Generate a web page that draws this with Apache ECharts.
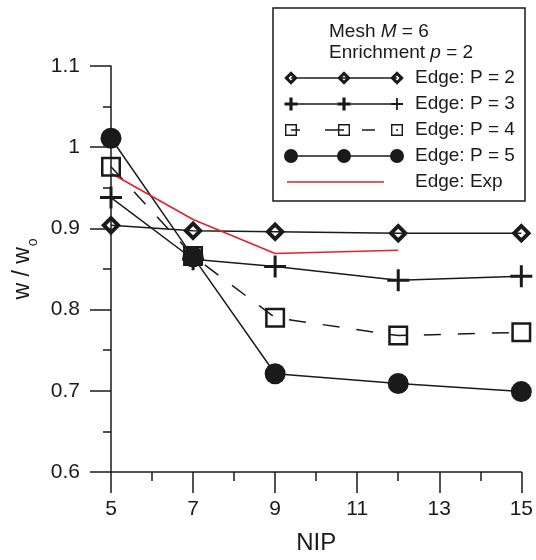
<!DOCTYPE html>
<html>
<head>
<meta charset="utf-8">
<script src="https://cdn.jsdelivr.net/npm/echarts@6/dist/echarts.min.js"></script>
<style>
  html, body { margin: 0; padding: 0; background: #fff; }
  #chart { width: 536px; height: 560px; }
</style>
</head>
<body>
<div id="chart"></div>
<script>
// Number of integration points (x) and normalised deflection w / w_o (y)
const nip = [5, 7, 9, 12, 15];
const nipExp = [5, 7, 9, 12];

const edgeP2 = [0.904, 0.897, 0.896, 0.894, 0.894];
const edgeP3 = [0.938, 0.862, 0.853, 0.836, 0.841];
const edgeP4 = [0.976, 0.866, 0.790, 0.768, 0.772];
const edgeP5 = [1.011, 0.865, 0.721, 0.709, 0.699];
const edgeExp = [0.968, 0.911, 0.869, 0.873];

const seriesNames = ['Edge: P = 2', 'Edge: P = 3', 'Edge: P = 4', 'Edge: P = 5', 'Edge: Exp'];

const xMajorTicks = [5, 7, 9, 11, 13, 15];
const xMinorTicks = [6, 8, 10, 12, 14];

const FONT = "'Liberation Sans', Arial, Helvetica, sans-serif";
const INK = '#1a1a1a';
const RED = '#e3222b';

function pairs(xs, ys) { return xs.map((x, i) => [x, ys[i]]); }

// ---- legend icons: a line with three markers, drawn as one filled path ----
const ICON_W = 126, ICON_H = 22, CY = 11;
const MARK_X = [7, 60, 113];
const frame = `M0,0h0.01M${ICON_W},${ICON_H}h-0.01`;
function lineRect(x0, x1) { return `M${x0},${CY - 0.75}H${x1}V${CY + 0.75}H${x0}Z`; }
function diamondPath(cx, r, ir) {
  return `M${cx},${CY - r}L${cx + r},${CY}L${cx},${CY + r}L${cx - r},${CY}Z` +
         `M${cx},${CY - ir}L${cx - ir},${CY}L${cx},${CY + ir}L${cx + ir},${CY}Z`;
}
function plusPath(cx, r, t) {
  return `M${cx - t},${CY - r}h${2 * t}v${2 * r}h${-2 * t}Z` +
         `M${cx - r},${CY - t}h${2 * r}v${2 * t}h${-2 * r}Z`;
}
function squarePath(cx, r, t) {
  const s = 2 * (r - t);
  return `M${cx - r},${CY - r}h${2 * r}v${2 * r}h${-2 * r}Z` +
         `M${cx - r + t},${CY - r + t}v${s}h${s}v${-s}Z`;
}
function circlePath(cx, r) {
  return `M${cx - r},${CY}a${r},${r} 0 1,1 ${2 * r},0a${r},${r} 0 1,1 ${-2 * r},0Z`;
}

const iconP2 = 'path://' + frame + lineRect(MARK_X[0], MARK_X[2]) + MARK_X.map(c => diamondPath(c, 6.8, 2.5)).join('');
const iconP3 = 'path://' + frame + lineRect(MARK_X[0], MARK_X[2]) +
  plusPath(MARK_X[0], 6.5, 1.6) + plusPath(MARK_X[1], 6.5, 1.6) + plusPath(MARK_X[2], 6, 0.9);
const iconP4 = 'path://' + frame +
  lineRect(7, 16) + lineRect(41, 60) + lineRect(78, 91) + lineRect(112, 114) +
  MARK_X.map(c => squarePath(c, 6, 1.4)).join('');
const iconP5 = 'path://' + frame + lineRect(MARK_X[0], MARK_X[2]) + MARK_X.map(c => circlePath(c, 7)).join('');
const iconExp = 'path://' + frame + lineRect(3, 100);

const legendIcons = [iconP2, iconP3, iconP4, iconP5, iconExp];
const legendColors = [INK, INK, INK, INK, RED];

// ---- plot markers ----
const symDiamond = 'path://M10,0L20,10L10,20L0,10Z M10,5.5L5.5,10L10,14.5L14.5,10Z';
const symPlus = 'path://M9.5,0h3v22h-3Z M0,9.5h22v3h-22Z';
const symSquare = 'path://M0,0h20v20h-20Z M2.5,2.5v15h15v-15Z';

function blackSeries(name, ys, symbol, size, dashed) {
  return {
    name: name,
    type: 'line',
    xAxisIndex: 0,
    data: pairs(nip, ys),
    symbol: symbol,
    symbolSize: size,
    showAllSymbol: true,
    clip: false,
    itemStyle: { color: INK, borderWidth: 0 },
    lineStyle: { color: INK, width: 1.5, type: dashed ? [17, 17] : 'solid' },
    emphasis: { disabled: true }
  };
}

const chart = echarts.init(document.getElementById('chart'), null, { renderer: 'canvas' });

chart.setOption({
  animation: false,
  backgroundColor: '#fff',
  textStyle: { fontFamily: FONT },
  grid: { left: 111, right: 13, top: 66, bottom: 83, containLabel: false },
  graphic: [{
    type: 'rect',
    z: 0,
    shape: { x: 273, y: 8, width: 252, height: 193 },
    style: { fill: '#fff', stroke: INK, lineWidth: 1.5 }
  }],
  title: {
    text: '{r|Mesh }{i|M}{r| = 6}\n{r|Enrichment }{i|p}{r| = 2}',
    left: 329,
    top: 21,
    padding: 0,
    z: 8,
    textStyle: {
      fontFamily: FONT,
      fontSize: 19,
      fontWeight: 'normal',
      color: INK,
      lineHeight: 21,
      rich: {
        r: { fontFamily: FONT, fontSize: 19, lineHeight: 21, color: INK },
        i: { fontFamily: FONT, fontSize: 19, lineHeight: 21, color: INK, fontStyle: 'italic' }
      }
    }
  },
  legend: {
    orient: 'vertical',
    left: 284,
    top: 67,
    padding: 0,
    itemWidth: ICON_W,
    itemHeight: ICON_H,
    itemGap: 4,
    selectedMode: false,
    z: 8,
    textStyle: { fontFamily: FONT, fontSize: 19, color: INK },
    data: seriesNames.map((n, i) => ({
      name: n,
      icon: legendIcons[i],
      itemStyle: { color: legendColors[i], borderWidth: 0, borderColor: 'transparent' }
    }))
  },
  xAxis: [{
    type: 'value',
    min: 5,
    max: 15,
    position: 'bottom',
    name: 'NIP',
    nameLocation: 'middle',
    nameGap: 59,
    nameTextStyle: { fontFamily: FONT, fontSize: 24, color: INK },
    axisLine: { show: true, lineStyle: { color: INK, width: 1.5 } },
    axisTick: { show: true, customValues: xMajorTicks, length: 21, inside: false, lineStyle: { color: INK, width: 1.5 } },
    axisLabel: { show: true, customValues: xMajorTicks, fontFamily: FONT, fontSize: 21, color: INK, margin: 27 },
    splitLine: { show: false }
  }, {
    type: 'value',
    min: 5,
    max: 15,
    position: 'bottom',
    axisLine: { show: false },
    axisTick: { show: true, customValues: xMinorTicks, length: 9, inside: false, lineStyle: { color: INK, width: 1.5 } },
    axisLabel: { show: false },
    splitLine: { show: false }
  }],
  yAxis: {
    type: 'value',
    min: 0.6,
    max: 1.1,
    interval: 0.1,
    name: '{a|w / w}{b|o}',
    nameLocation: 'middle',
    nameRotate: 90,
    nameGap: 74,
    nameTextStyle: {
      fontFamily: FONT,
      color: INK,
      rich: {
        a: { fontFamily: FONT, fontSize: 23, lineHeight: 24, color: INK, verticalAlign: 'top' },
        b: { fontFamily: FONT, fontSize: 14, lineHeight: 14, color: INK, verticalAlign: 'top', padding: [15, 0, 0, 1] }
      }
    },
    axisLine: { show: true, lineStyle: { color: INK, width: 1.5 } },
    axisTick: { show: true, length: 21, inside: false, lineStyle: { color: INK, width: 1.5 } },
    minorTick: { show: true, splitNumber: 2, length: 8, lineStyle: { color: INK, width: 1.5 } },
    axisLabel: { fontFamily: FONT, fontSize: 21, color: INK, margin: 31 },
    splitLine: { show: false },
    minorSplitLine: { show: false }
  },
  series: [
    blackSeries(seriesNames[0], edgeP2, symDiamond, 20, false),
    blackSeries(seriesNames[1], edgeP3, symPlus, 22, false),
    blackSeries(seriesNames[2], edgeP4, symSquare, 20, true),
    blackSeries(seriesNames[3], edgeP5, 'circle', 21, false),
    {
      name: seriesNames[4],
      type: 'line',
      xAxisIndex: 0,
      data: pairs(nipExp, edgeExp),
      symbol: 'none',
      clip: false,
      itemStyle: { color: RED },
      lineStyle: { color: RED, width: 1.6 },
      emphasis: { disabled: true }
    }
  ]
});
</script>
</body>
</html>
